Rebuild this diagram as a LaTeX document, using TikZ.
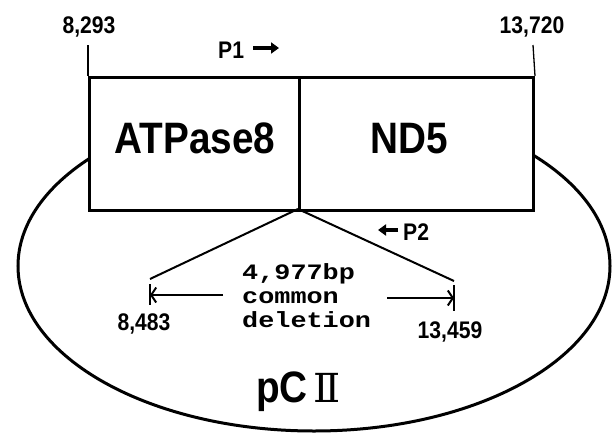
\documentclass[tikz,border=0pt]{standalone}
\usepackage{fontspec}
\setmainfont{Liberation Sans}
\newfontfamily\labfont[FakeStretch=0.88]{Liberation Sans}
\newfontfamily\monofont[FakeStretch=1.22]{Liberation Mono}
\newfontfamily\rnfont{DejaVu Serif}
\usetikzlibrary{arrows.meta}
\begin{document}
\begin{tikzpicture}[x=1pt,y=-1pt,
  lab/.style={inner sep=0pt,font=\labfont\bfseries\fontsize{24}{24}\selectfont},
  big/.style={inner sep=0pt,font=\labfont\bfseries\fontsize{44}{44}\selectfont},
  genebox/.style={draw,line width=3pt,fill=white,minimum height=133pt,inner sep=0pt,anchor=north west},
  tick/.style={line width=1.3pt},
  delline/.style={line width=2pt},
  primer/.style={line width=3.4pt,-{Triangle[length=8pt,width=11pt]}},
  span/.style={line width=2pt,-{Straight Barb[length=5pt,width=15pt]}}
]
\useasboundingbox (0,0) rectangle (616,442);
% plasmid circle
\draw[line width=3pt] (314,266) ellipse [x radius=296, y radius=165];
% gene boxes
\node[genebox,minimum width=210pt] (atp) at (88,76) {};
\node[genebox,minimum width=234pt] (nd5) at (298,76) {};
\node[big,anchor=base] (atptxt) at (195,153) {ATPase8};
\node[big,anchor=base] (nd5txt) at (409,153) {ND5};
% position ticks
\coordinate (tl) at (88,45);
\coordinate (tr) at (533,45);
\draw[tick] (tl) -- (atp.north west);
\draw[tick] (tr) -- (nd5.north east);
\node[lab,anchor=base] (n8293) at (89,33) {8,293};
\node[lab,anchor=base] (n13720) at (532,33) {13,720};
% primers
\node[lab,anchor=base west] (p1) at (218,58) {P1};
\coordinate (p1a) at (253,48);
\coordinate (p1b) at (279,48);
\draw[primer] (p1a) -- (p1b);
\node[lab,anchor=base west] (p2) at (403,240) {P2};
\coordinate (p2a) at (398,230);
\coordinate (p2b) at (378,230);
\draw[primer] (p2a) -- (p2b);
% deletion
\coordinate (apex) at (298,209);
\coordinate (dl) at (150,279);
\coordinate (dr) at (454,281);
\draw[delline] (apex) -- (dl);
\draw[delline] (apex) -- (dr);
\coordinate (dlt) at (150,284);
\coordinate (dlb) at (150,305);
\coordinate (drt) at (454,285);
\coordinate (drb) at (454,311);
\draw[tick,line width=1.6pt] (dlt) -- (dlb);
\draw[tick,line width=1.6pt] (drt) -- (drb);
\coordinate (al) at (223,295);
\coordinate (ar) at (387,298);
\draw[span] (al) -- (150,295);
\draw[span] (ar) -- (454,298);
\node[inner sep=0pt,anchor=north west,align=left,font=\monofont\bfseries\fontsize{22}{24}\selectfont] (del) at (242,263) {4,977bp\\common\\deletion};
\node[lab,anchor=base] (n8483) at (144,330) {8,483};
\node[lab,anchor=base] (n13459) at (450,338) {13,459};
% plasmid name
\node[inner sep=0pt,anchor=base west] (pc) at (256,402) {{\labfont\bfseries\fontsize{44}{44}\selectfont pC}\hspace{6pt}{\rnfont\fontsize{40}{40}\selectfont Ⅱ}};
\end{tikzpicture}
\end{document}
